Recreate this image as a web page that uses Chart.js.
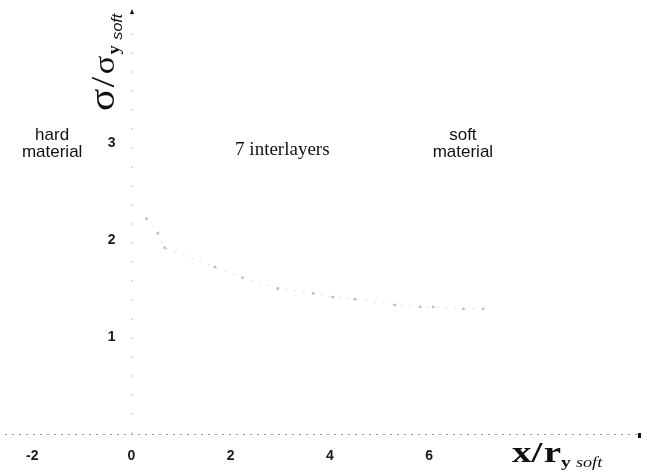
<!DOCTYPE html>
<html>
<head>
<meta charset="utf-8">
<script src="https://cdn.jsdelivr.net/npm/chart.js@4"></script>
<style>
  html, body { margin: 0; background: #fff; }
  #wrap { width: 647px; height: 475px; }
</style>
</head>
<body>
<div id="wrap"><canvas id="chart"></canvas></div>
<script>
// ===== DATA =====
const X_VALUES = [0.3, 0.53, 0.67, 1.68, 2.24, 2.95, 3.66, 4.06, 4.5, 5.31, 5.82, 6.08, 6.69, 7.09];
const Y_VALUES = [2.22, 2.07, 1.92, 1.72, 1.61, 1.5, 1.45, 1.41, 1.39, 1.33, 1.31, 1.31, 1.29, 1.29];
const X_TICKS = [-2, 0, 2, 4, 6];
const Y_TICKS = [1, 2, 3];
const NOTES = [
  { x: -1.6, y: 2.99, lines: ['hard', 'material'], serif: false },
  { x: 3.04, y: 2.93, lines: ['7 interlayers'], serif: true },
  { x: 6.68, y: 2.99, lines: ['soft', 'material'], serif: false }
];

// ===== EXTRA DRAWING (axes, titles, notes, y labels) =====
function drawPieces(ctx, pieces) {
  let x = 0;
  pieces.forEach(p => {
    ctx.font = p.font;
    ctx.fillText(p.text, x, p.dy || 0);
    x += ctx.measureText(p.text).width + (p.gap || 0);
  });
}

const decorPlugin = {
  id: 'decor',
  beforeDatasetsDraw(chart) {
    // dotted axes through the origin
    const ctx = chart.ctx, area = chart.chartArea;
    const x0 = chart.scales.x.getPixelForValue(0), y0 = chart.scales.y.getPixelForValue(0);
    ctx.save();
    ctx.lineWidth = 1;
    ctx.strokeStyle = '#8f8f8f';
    ctx.setLineDash([2, 5]);
    ctx.beginPath();
    ctx.moveTo(area.left, y0 + 0.5);
    ctx.lineTo(area.right, y0 + 0.5);
    ctx.stroke();
    ctx.strokeStyle = '#c4c4c4';
    ctx.setLineDash([2, 17]);
    ctx.beginPath();
    ctx.moveTo(x0 + 0.5, area.bottom);
    ctx.lineTo(x0 + 0.5, area.top);
    ctx.stroke();
    ctx.restore();
  },
  afterDraw(chart) {
    const ctx = chart.ctx;
    const xs = chart.scales.x, ys = chart.scales.y;
    const x0 = xs.getPixelForValue(0), y0 = ys.getPixelForValue(0);
    ctx.save();
    ctx.fillStyle = '#111';

    // arrow on top of the y axis, small block at the right end of the x axis
    const top = chart.chartArea.top;
    ctx.beginPath();
    ctx.moveTo(x0 + 0.5, top - 3);
    ctx.lineTo(x0 - 1.5, top + 2);
    ctx.lineTo(x0 + 2.5, top + 2);
    ctx.closePath();
    ctx.fill();
    ctx.fillRect(chart.chartArea.right - 2, y0 - 1, 3, 5);

    // y tick labels (axis sits at x = 0, so labels are placed from the scale here)
    ctx.font = 'bold 14px "Liberation Sans"';
    ctx.fillStyle = '#1a1a1a';
    ctx.textAlign = 'right';
    ctx.textBaseline = 'middle';
    Y_TICKS.forEach(v => ctx.fillText(String(v), x0 - 16, ys.getPixelForValue(v)));

    // notes
    ctx.fillStyle = '#111';
    ctx.textAlign = 'center';
    NOTES.forEach(n => {
      ctx.font = n.serif ? '19px "Liberation Serif"' : '17px "Liberation Sans"';
      const px = xs.getPixelForValue(n.x), py = ys.getPixelForValue(n.y);
      const lh = 17;
      n.lines.forEach((t, i) => {
        ctx.fillText(t, px, py + (i - (n.lines.length - 1) / 2) * lh);
      });
    });

    // x axis title
    ctx.textAlign = 'left';
    ctx.textBaseline = 'alphabetic';
    ctx.save();
    ctx.translate(512, 462);
    ctx.scale(1.3, 1);
    drawPieces(ctx, [
      { text: 'x', font: 'bold 30px "Liberation Serif"' },
      { text: '/', font: 'bold 30px "Liberation Serif"', gap: 1 },
      { text: 'r', font: 'bold 30px "Liberation Serif"' },
      { text: 'y', font: 'bold 15px "Liberation Serif"', dy: 5, gap: 4 },
      { text: 'soft', font: 'italic 14px "Liberation Serif"', dy: 5 }
    ]);
    ctx.restore();

    // y axis title (rotated)
    ctx.save();
    ctx.translate(114, 111);
    ctx.rotate(-Math.PI / 2);
    ctx.scale(1.15, 1);
    drawPieces(ctx, [
      { text: 'σ', font: '36px "Liberation Serif"', gap: 1 },
      { text: '/', font: '34px "Liberation Serif"', gap: 2 },
      { text: 'σ', font: '30px "Liberation Serif"', gap: 1 },
      { text: 'y', font: 'bold 16px "Liberation Serif"', dy: 5, gap: 5 },
      { text: 'soft', font: 'italic 14px "Liberation Sans"', dy: 8 }
    ]);
    ctx.restore();

    ctx.restore();
  }
};

// ===== CHART =====
new Chart(document.getElementById('chart'), {
  type: 'scatter',
  data: {
    datasets: [{
      data: X_VALUES.map((x, i) => ({ x, y: Y_VALUES[i] })),
      showLine: true,
      borderColor: '#dcdcdc',
      borderWidth: 1,
      borderDash: [2, 7],
      pointRadius: 1.4,
      pointBackgroundColor: '#bdbdbd',
      pointBorderWidth: 0
    }]
  },
  options: {
    responsive: true,
    maintainAspectRatio: false,
    animation: false,
    layout: { padding: { left: 5, right: 7, top: 12, bottom: 0 } },
    plugins: { legend: { display: false }, tooltip: { enabled: false } },
    scales: {
      x: {
        type: 'linear',
        min: -2.55,
        max: 10.25,
        afterBuildTicks: s => { s.ticks = X_TICKS.map(v => ({ value: v })); },
        afterFit: s => { s.height = 41; },
        grid: { display: false },
        border: { display: false },
        ticks: { padding: 6, color: '#1a1a1a', font: { family: 'Liberation Sans', size: 14, weight: 'bold' } }
      },
      y: {
        type: 'linear',
        position: { x: 0 },
        min: 0,
        max: 4.35,
        afterBuildTicks: s => { s.ticks = Y_TICKS.map(v => ({ value: v })); },
        grid: { display: false },
        border: { display: false },
        ticks: { display: false }
      }
    }
  },
  plugins: [decorPlugin]
});
</script>
</body>
</html>
